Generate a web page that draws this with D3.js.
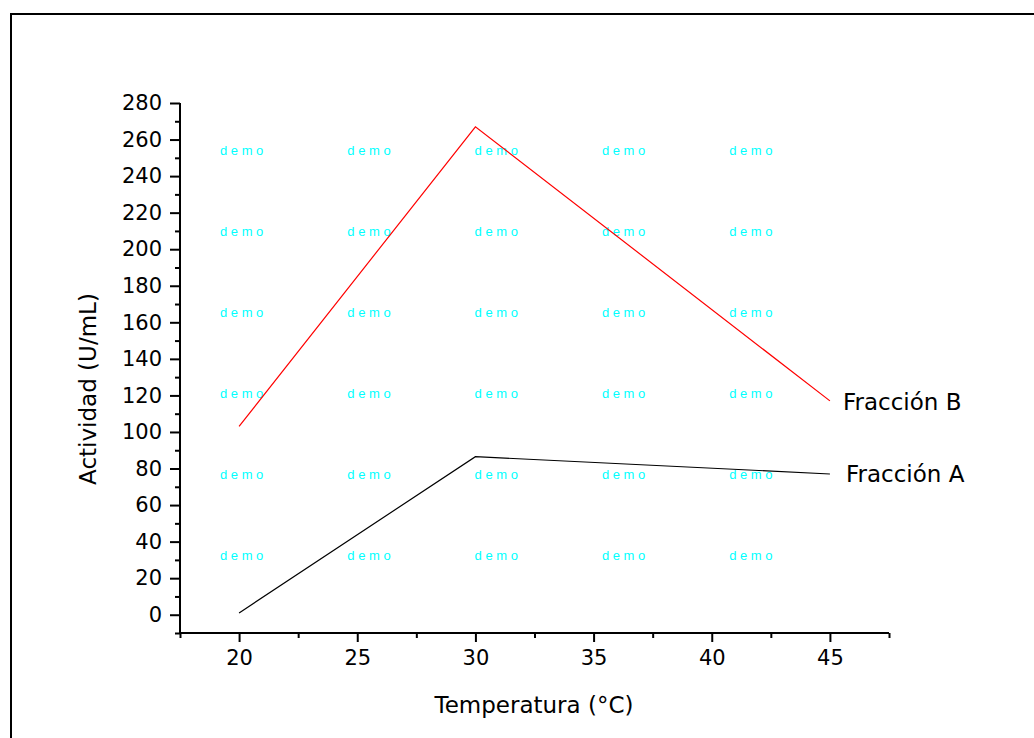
<!DOCTYPE html>
<html>
<head>
<meta charset="utf-8">
<script src="https://cdn.jsdelivr.net/npm/d3@7"></script>
<style>
  body { margin: 0; background: #fff; }
  svg { display: block; font-family: "DejaVu Sans", Verdana, sans-serif; }
</style>
</head>
<body>
<div class="canvas"></div>
<script>
// data
const temps = [20, 30, 45];
const fraccionA = [1, 86.5, 77];
const fraccionB = [103, 267, 117];
const seriesNames = ['Fracción A', 'Fracción B'];
const xTicks = [20, 25, 30, 35, 40, 45];
const yTicks = [0, 20, 40, 60, 80, 100, 120, 140, 160, 180, 200, 220, 240, 260, 280];

const width = 1034, height = 738;

const svg = d3.select('.canvas')
    .append('svg')
    .attr('width', width)
    .attr('height', height)

// outer frame
svg.append('rect')
    .attr('x', 11).attr('y', 14)
    .attr('width', width + 20).attr('height', height + 20)
    .attr('fill', 'none')
    .attr('stroke', '#000')
    .attr('stroke-width', 2)

const x = d3.scaleLinear().domain([17.5, 47.5]).range([180, 889]);
const y = d3.scaleLinear().domain([-10, 280]).range([633, 103]);

// watermark
const wmCols = d3.range(5), wmRows = d3.range(6);
const wm = svg.append('g')
wmRows.forEach(r => {
    wmCols.forEach(c => {
        wm.append('text')
            .attr('x', 220 + c * 127.3)
            .attr('y', 155 + r * 81)
            .attr('fill', '#00ffff')
            .style('font-family', '"Liberation Sans", Arial, sans-serif')
            .style('font-size', '13px')
            .text('d e m o')
    })
})

// minor ticks
const xMinor = d3.range(17.5, 47.6, 5);
const yMinor = d3.range(-10, 281, 20);

const xAxisG = svg.append('g').attr('transform', 'translate(0,633)')
xAxisG.call(d3.axisBottom(x).tickValues(xMinor).tickSize(5).tickFormat(''))
xAxisG.append('g').call(d3.axisBottom(x).tickValues(xTicks).tickSize(9).tickFormat(d3.format('d')).tickPadding(8))

const yAxisG = svg.append('g').attr('transform', 'translate(180,0)')
yAxisG.call(d3.axisLeft(y).tickValues(yMinor).tickSize(5).tickFormat(''))
yAxisG.append('g').call(d3.axisLeft(y).tickValues(yTicks).tickSize(10).tickFormat(d3.format('d')).tickPadding(8))

svg.selectAll('.domain').attr('stroke-width', 2)
svg.selectAll('.tick line').attr('stroke-width', 2)
svg.selectAll('.tick text')
    .style('font-size', '21px')
    .style('font-family', '"DejaVu Sans", Verdana, sans-serif')
    .attr('fill', '#000')
xAxisG.selectAll('.domain').attr('d', `M180,0H889`)
yAxisG.selectAll('.domain').attr('d', `M0,633V103`)

// lines
const line = d3.line()
    .x(d => x(d[0]))
    .y(d => y(d[1]))

const series = [
    {name: seriesNames[0], values: temps.map((t, i) => [t, fraccionA[i]]), colour: '#000000', dx: 16, dy: 8},
    {name: seriesNames[1], values: temps.map((t, i) => [t, fraccionB[i]]), colour: '#ff0000', dx: 13, dy: 9}
]

series.forEach(s => {
    svg.append('path')
        .datum(s.values)
        .attr('d', line)
        .attr('fill', 'none')
        .attr('stroke', s.colour)
        .attr('stroke-width', 1.2)
    const last = s.values[s.values.length - 1]
    svg.append('text')
        .attr('x', x(last[0]) + s.dx)
        .attr('y', y(last[1]) + s.dy)
        .style('font-size', '23px')
        .text(s.name)
})

// axis titles
svg.append('text')
    .attr('x', 534)
    .attr('y', 713)
    .attr('text-anchor', 'middle')
    .style('font-size', '23px')
    .text('Temperatura (°C)')

svg.append('text')
    .attr('transform', 'translate(96,389) rotate(-90)')
    .attr('text-anchor', 'middle')
    .style('font-size', '23px')
    .text('Actividad (U/mL)')
</script>
</body>
</html>
